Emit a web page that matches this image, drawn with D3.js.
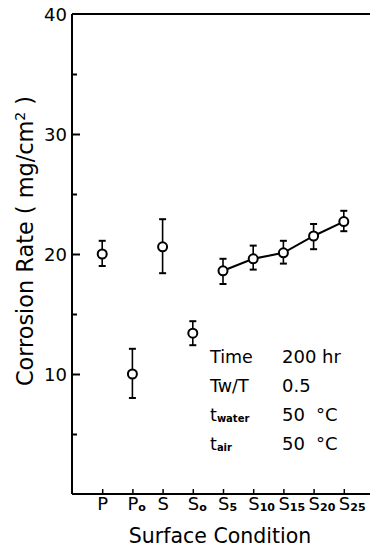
<!DOCTYPE html>
<html lang="en">
<head>
<meta charset="UTF-8">
<script src="https://cdnjs.cloudflare.com/ajax/libs/d3/7.8.5/d3.min.js"></script>
<style>
    body { margin: 0; background: #fff; }
    text { font-family: "DejaVu Sans", sans-serif; fill: #000; }
</style>
</head>
<body>
<div id="chart"></div>
<script>
    // surface conditions (main letter + subscript)
    var mains = ["P", "P", "S", "S", "S", "S", "S", "S", "S"];
    var subs = ["", "o", "", "o", "5", "10", "15", "20", "25"];
    var categories = mains.map(function (m, i) { return m + subs[i]; });

    // corrosion rate, mg/cm2
    var means = [20.0, 10.0, 20.6, 13.4, 18.6, 19.6, 20.1, 21.5, 22.7];
    var lower = [19.0, 8.0, 18.4, 12.4, 17.5, 18.7, 19.2, 20.4, 21.9];
    var upper = [21.1, 12.1, 22.9, 14.4, 19.6, 20.7, 21.1, 22.5, 23.6];
    var joined = ["S5", "S10", "S15", "S20", "S25"];

    var yMajor = [10, 20, 30, 40];
    var yMinor = [5, 15, 25, 35];

    var condNames = ["Time", "Tw/T", "t", "t"];
    var condSubs = ["", "", "water", "air"];
    var condValues = ["200 hr", "0.5", "50", "50"];
    var condUnits = ["", "", "°C", "°C"];

    var width = 370, height = 548;
    var svg = d3.select("#chart").append("svg")
        .attr("width", width)
        .attr("height", height);

    var x = d3.scalePoint().domain(categories).range([72, 374]).padding(1);
    var y = d3.scaleLinear().domain([0, 40]).range([494, 14]);

    var data = categories.map(function (c, i) {
        return {cat: c, main: mains[i], sub: subs[i], v: means[i], lo: lower[i], hi: upper[i]};
    });

    // frame: left, top and bottom lines
    var frame = svg.append("g").attr("stroke", "#000").attr("stroke-width", 2).attr("fill", "none");
    frame.append("line").attr("x1", 72).attr("x2", 72).attr("y1", y(40)).attr("y2", y(0));
    frame.append("line").attr("x1", 72).attr("x2", width).attr("y1", y(40)).attr("y2", y(40));
    frame.append("line").attr("x1", 72).attr("x2", width).attr("y1", y(0)).attr("y2", y(0));

    // y axis ticks (inward)
    var yAxis = d3.axisRight(y).tickValues(yMajor.slice(0, 3)).tickSize(8).tickFormat("");
    svg.append("g").attr("transform", "translate(72,0)").call(yAxis)
        .call(function (g) { g.select(".domain").remove(); })
        .selectAll("line").attr("stroke-width", 2);
    var yAxisMinor = d3.axisRight(y).tickValues(yMinor).tickSize(5).tickFormat("");
    svg.append("g").attr("transform", "translate(72,0)").call(yAxisMinor)
        .call(function (g) { g.select(".domain").remove(); })
        .selectAll("line").attr("stroke-width", 2);

    svg.selectAll(".ylab").data(yMajor).enter().append("text")
        .attr("x", 67)
        .attr("y", function (d) { return y(d) + 6.5; })
        .attr("text-anchor", "end")
        .attr("font-size", 18)
        .text(function (d) { return d; });

    // x axis ticks (inward)
    var xAxis = d3.axisTop(x).tickSize(5).tickFormat("");
    svg.append("g").attr("transform", "translate(0," + y(0) + ")").call(xAxis)
        .call(function (g) { g.select(".domain").remove(); })
        .selectAll("line").attr("stroke-width", 1.5);

    var xl = svg.selectAll(".xlab").data(data).enter().append("text")
        .attr("x", function (d) { return x(d.cat) - 5; })
        .attr("y", 510)
        .attr("font-size", 18);
    xl.append("tspan").text(function (d) { return d.main; });
    xl.append("tspan")
        .attr("font-size", 11)
        .attr("font-weight", "bold")
        .attr("dy", 1)
        .text(function (d) { return d.sub; });

    // axis titles
    svg.append("text")
        .attr("x", 220).attr("y", 543)
        .attr("text-anchor", "middle")
        .attr("font-size", 20.5)
        .text("Surface Condition");

    var yt = svg.append("text")
        .attr("transform", "translate(33,241) rotate(-90)")
        .attr("text-anchor", "middle")
        .attr("font-size", 22.4);
    yt.append("tspan").text("Corrosion Rate ( mg/cm");
    yt.append("tspan").attr("font-size", 14).attr("dy", -8).text("2");
    yt.append("tspan").attr("dy", 8).text(" )");

    // connecting line for S5..S25
    var line = d3.line().x(function (d) { return x(d.cat); }).y(function (d) { return y(d.v); });
    svg.append("path")
        .datum(data.filter(function (d) { return joined.indexOf(d.cat) >= 0; }))
        .attr("d", line)
        .attr("fill", "none")
        .attr("stroke", "#000")
        .attr("stroke-width", 2);

    // error bars
    var eb = svg.append("g").attr("stroke", "#000");
    eb.selectAll(".bar").data(data).enter().append("line")
        .attr("x1", function (d) { return x(d.cat); })
        .attr("x2", function (d) { return x(d.cat); })
        .attr("y1", function (d) { return y(d.lo); })
        .attr("y2", function (d) { return y(d.hi); })
        .attr("stroke-width", 1.6);
    ["lo", "hi"].forEach(function (k) {
        eb.selectAll(".cap-" + k).data(data).enter().append("line")
            .attr("x1", function (d) { return x(d.cat) - 3.5; })
            .attr("x2", function (d) { return x(d.cat) + 3.5; })
            .attr("y1", function (d) { return y(d[k]); })
            .attr("y2", function (d) { return y(d[k]); })
            .attr("stroke-width", 2);
    });

    // points
    svg.selectAll(".pt").data(data).enter().append("circle")
        .attr("cx", function (d) { return x(d.cat); })
        .attr("cy", function (d) { return y(d.v); })
        .attr("r", 4.5)
        .attr("fill", "#fff")
        .attr("stroke", "#000")
        .attr("stroke-width", 2);

    // test conditions
    var rows = [363, 392, 421, 450];
    condNames.forEach(function (n, i) {
        var t = svg.append("text").attr("x", 210).attr("y", rows[i]).attr("font-size", 17.5);
        t.append("tspan").text(n);
        if (condSubs[i]) {
            t.append("tspan").attr("font-size", 10).attr("font-weight", "bold").attr("dy", 1).text(condSubs[i]);
        }
        var v = svg.append("text").attr("x", 282).attr("y", rows[i]).attr("font-size", 18);
        v.append("tspan").text(condValues[i]);
        if (condUnits[i]) {
            v.append("tspan").attr("x", 316).text(condUnits[i]);
        }
    });
</script>
</body>
</html>
